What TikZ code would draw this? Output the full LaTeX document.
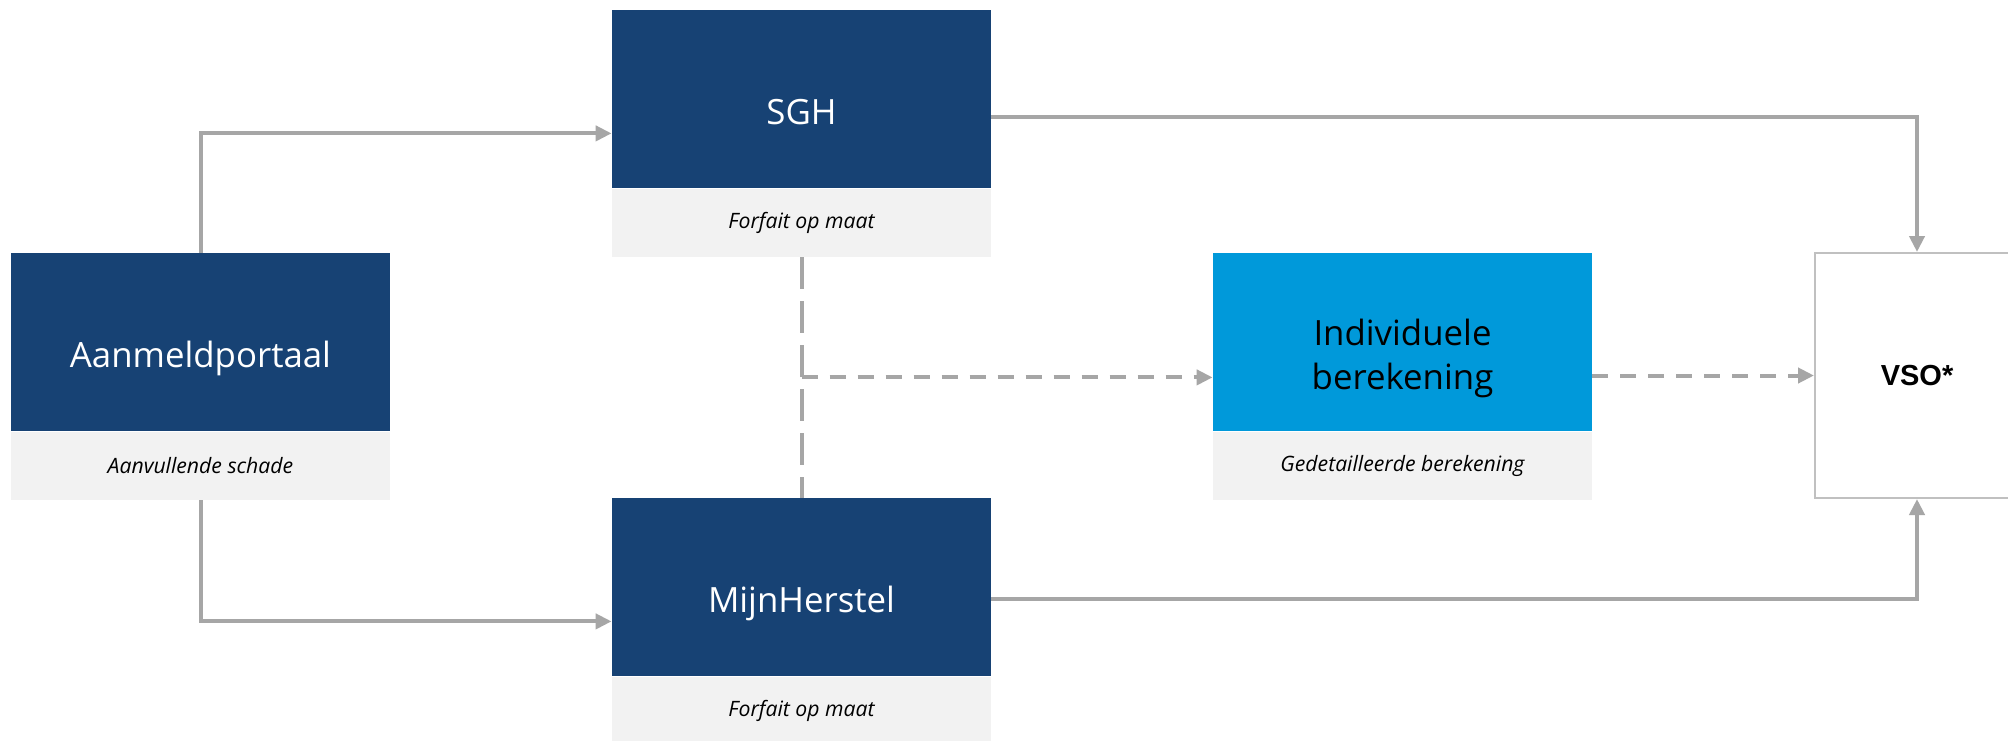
\documentclass[tikz,border=0pt]{standalone}
\usepackage{fontspec}
\setmainfont{Open Sans}
\newfontfamily\vsofont{Liberation Sans}
\usetikzlibrary{arrows.meta,calc,positioning}

\definecolor{navy}{HTML}{174274}
\definecolor{skyblue}{HTML}{0099DA}
\definecolor{subgray}{HTML}{F2F2F2}
\definecolor{linegray}{HTML}{A6A6A6}
\definecolor{framegray}{HTML}{C0C0C0}

\begin{document}
\begin{tikzpicture}[x=0.5pt,y=-0.5pt,>={Triangle[length=8pt,width=7.5pt]},
		title/.style={fill=navy,minimum width=189.5pt,minimum height=89pt,inner sep=0pt},
		titletext/.style={text=white,font=\fontsize{17.4}{22}\selectfont,align=center,yshift=-8pt},
		sub/.style={fill=subgray,minimum width=189.5pt,minimum height=34pt,inner sep=0pt,font=\fontsize{10.6}{12}\selectfont\itshape},
		flow/.style={draw=linegray,line width=2pt,->},
		shortdash/.style={dash pattern=on 8pt off 6pt},
		longdash/.style={dash pattern=on 16pt off 6pt}]
			\useasboundingbox (0,0) rectangle (2008,740);
			\clip (0,0) rectangle (2008,740);
			\fill[white] (0,0) rectangle (2008,740);
			% boxes
			\node[title,label={[titletext]center:Aanmeldportaal}] (aan) at (200.5,342) {};
			\node[sub] [below=0pt of aan] (aansub) {Aanvullende schade};
			\node[title,label={[titletext,yshift=1.5pt]center:SGH}] (sgh) at (801.5,99) {};
			\node[sub] [below=0pt of sgh] (sghsub) {Forfait op maat};
			\node[title,label={[titletext]center:MijnHerstel}] (mh) at (801.5,587) {};
			\node[sub] [below=0pt of mh] (mhsub) {Forfait op maat};
			\node[title,fill=skyblue,label={[titletext,text=black]center:{Individuele\\berekening}}] (ind) at (1402.5,342) {};
			\node[sub] [below=0pt of ind] (indsub) {Gedetailleerde berekening};
			\node[draw=framegray,line width=1pt,minimum width=102pt,minimum height=122.5pt,
				font=\vsofont\bfseries\fontsize{14.5}{17}\selectfont] (vso) at (1917,375.5) {VSO*};
			% connectors
			\coordinate (mid) at ($(sghsub.south)!0.5!(mh.north)$);
			\draw[flow] (aan.north) |- ($(sgh.north west)!0.5!(sghsub.south west)$);
			\draw[flow] (aansub.south) |- ($(mh.north west)!0.5!(mhsub.south west)$);
			\draw[flow] ([yshift=-9pt]sgh.east) -| (vso.north);
			\draw[flow] ([yshift=-6pt]mh.east) -| (vso.south);
			\draw[draw=linegray,line width=2pt,longdash] (sghsub.south) -- (mh.north);
			\draw[flow,shortdash] (mid) -- (mid -| ind.west);
			\draw[flow,shortdash] (vso.west -| ind.east) -- (vso.west);
		\end{tikzpicture}
\end{document}
